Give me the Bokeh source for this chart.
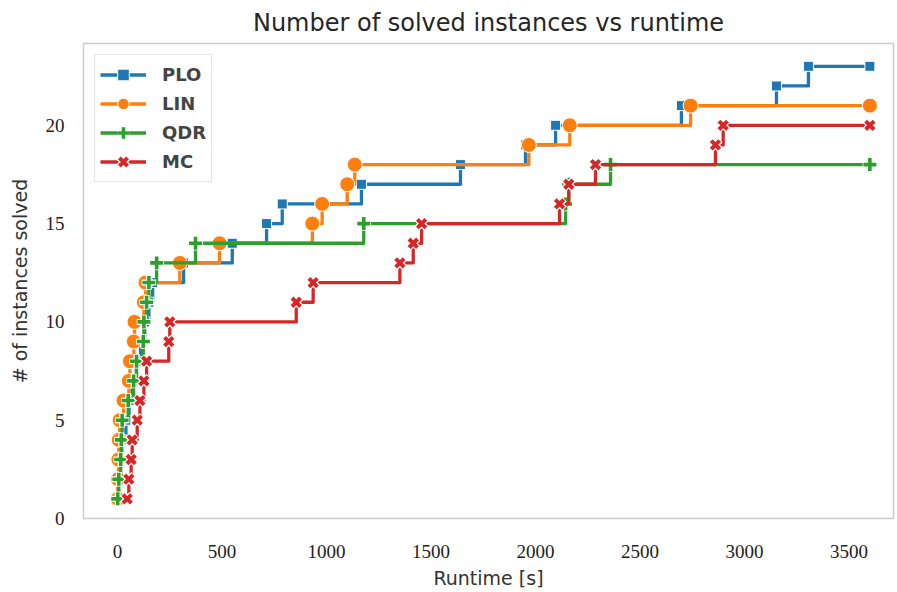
from bokeh.plotting import figure
from bokeh.models import Range1d, FixedTicker, Legend, LegendItem
from bokeh.embed import file_html
from bokeh.resources import INLINE

# runtime [s] at which the n-th instance was solved (last point = time limit)
plo_runtime = [1, 3, 8, 20, 40, 55, 70, 90, 110, 130, 150, 168, 316, 549, 713, 788,
               1167, 1641, 1952, 2096, 2698, 3153, 3306, 3600]
plo_solved = [1, 2, 3, 4, 5, 6, 7, 8, 9, 10, 11, 12, 13, 14, 15, 16, 17, 18, 19, 20,
              21, 22, 23, 23]

lin_runtime = [1, 2, 4, 6, 10, 29, 54, 59, 78, 81, 126, 134, 298, 488, 932, 979, 1099,
               1135, 1968, 2164, 2742, 3600]
lin_solved = [1, 2, 3, 4, 5, 6, 7, 8, 9, 10, 11, 12, 13, 14, 15, 16, 17, 18, 19, 20,
              21, 21]

qdr_runtime = [1, 6, 15, 18, 22, 51, 77, 91, 123, 126, 139, 150, 187, 373, 1178, 2144,
               2159, 2359, 3600]
qdr_solved = [1, 2, 3, 4, 5, 6, 7, 8, 9, 10, 11, 12, 13, 14, 15, 16, 17, 18, 18]

mc_runtime = [46, 54, 65, 70, 94, 107, 126, 139, 245, 250, 855, 936, 1351, 1415, 1455,
              2115, 2159, 2287, 2861, 2898, 3600]
mc_solved = [1, 2, 3, 4, 5, 6, 7, 8, 9, 10, 11, 12, 13, 14, 15, 16, 17, 18, 19, 20, 20]

x_ticks = [0, 500, 1000, 1500, 2000, 2500, 3000, 3500]
y_ticks = [0, 5, 10, 15, 20]

SANS = "DejaVu Sans"
SERIF = "Liberation Serif"

p = figure(width=897, height=592, output_backend="svg", toolbar_location=None,
           x_range=Range1d(-163, 3713), y_range=Range1d(0, 24.16),
           min_border_left=83, min_border_right=4, min_border_top=43,
           min_border_bottom=74)

p.title.text = "Number of solved instances vs runtime"
p.title.align = "center"
p.title.text_font = SANS
p.title.text_font_style = "normal"
p.title.text_font_size = "24px"
p.title.text_color = "#262626"
p.title.standoff = 13

p.xgrid.visible = False
p.ygrid.visible = False
p.outline_line_color = "#cccccc"
p.outline_line_width = 1.5
p.background_fill_color = "white"
p.border_fill_color = "white"

for ax in (p.xaxis[0], p.yaxis[0]):
    ax.axis_line_color = None
    ax.major_tick_line_color = None
    ax.minor_tick_line_color = None
    ax.major_label_text_font = SERIF
    ax.major_label_text_font_size = "19px"
    ax.major_label_text_color = "#222222"
    ax.axis_label_text_font = SANS
    ax.axis_label_text_font_style = "normal"
    ax.axis_label_text_font_size = "19px"
    ax.axis_label_text_color = "#333333"

p.xaxis[0].ticker = FixedTicker(ticks=x_ticks)
p.yaxis[0].ticker = FixedTicker(ticks=y_ticks)
p.xaxis[0].axis_label = "Runtime [s]"
p.yaxis[0].axis_label = "# of instances solved"
p.xaxis[0].major_label_standoff = 20
p.xaxis[0].axis_label_standoff = 6
p.yaxis[0].major_tick_out = 0
p.yaxis[0].major_tick_in = 0
p.yaxis[0].major_label_standoff = 19
p.yaxis[0].axis_label_standoff = 12

LW = 3.3
items = []

# PLO
c = "#1f77b4"
r1 = p.step(plo_runtime, plo_solved, mode="after", line_color=c, line_width=LW,
            line_join="round")
r2 = p.scatter(plo_runtime, plo_solved, marker="square", size=10, fill_color=c,
               line_color="white", line_width=1)
items.append(LegendItem(label="PLO", renderers=[r1, r2]))

# LIN
c = "#ff7f0e"
r1 = p.step(lin_runtime, lin_solved, mode="after", line_color=c, line_width=LW,
            line_join="round")
r2 = p.scatter(lin_runtime, lin_solved, marker="circle", size=15, fill_color=c,
               line_color="white", line_width=1)
items.append(LegendItem(label="LIN", renderers=[r1, r2]))

# QDR
c = "#2ca02c"
r1 = p.step(qdr_runtime, qdr_solved, mode="after", line_color=c, line_width=LW,
            line_join="round")
r2 = p.scatter(qdr_runtime, qdr_solved, marker="cross", size=14.5, line_color="white",
               line_width=6)
r3 = p.scatter(qdr_runtime, qdr_solved, marker="cross", size=13, line_color=c,
               line_width=3.6)
items.append(LegendItem(label="QDR", renderers=[r1, r2, r3]))

# MC
c = "#d62728"
r1 = p.step(mc_runtime, mc_solved, mode="after", line_color=c, line_width=LW,
            line_join="round")
r2 = p.scatter(mc_runtime, mc_solved, marker="x", size=13.5, line_color="white",
               line_width=6.5)
r3 = p.scatter(mc_runtime, mc_solved, marker="x", size=12, line_color=c,
               line_width=4)
items.append(LegendItem(label="MC", renderers=[r1, r2, r3]))

legend = Legend(items=items, location="top_left")
legend.margin = 11
legend.padding = 5
legend.spacing = 0
legend.glyph_width = 46
legend.glyph_height = 29
legend.label_height = 20
legend.label_standoff = 16
legend.label_text_font = SANS
legend.label_text_font_style = "bold"
legend.label_text_font_size = "18px"
legend.label_text_color = "#444444"
legend.border_line_color = "#cccccc"
legend.border_line_width = 1.5
legend.background_fill_color = "white"
legend.background_fill_alpha = 0.85
p.add_layout(legend)

open("out.html", "w").write(file_html(p, INLINE))
